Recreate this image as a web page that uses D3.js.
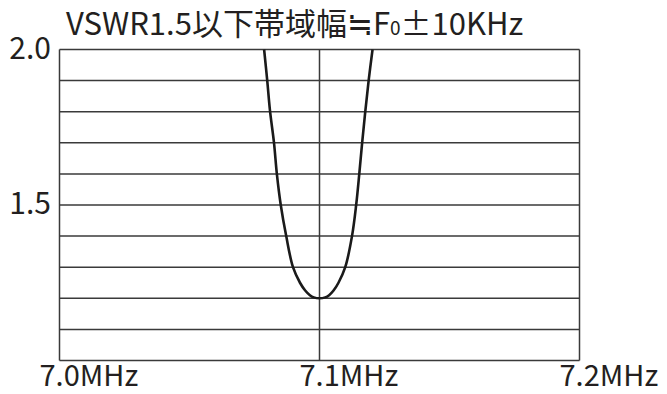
<!DOCTYPE html>
<html>
<head>
<meta charset="utf-8">
<script src="https://cdn.jsdelivr.net/npm/d3@7"></script>
<style>
  body { margin: 0; background: #fff; }
  text { font-family: "Noto Sans CJK JP", "Noto Sans", sans-serif; fill: #231f20; }
</style>
</head>
<body>
<div id="chart"></div>
<script>
// grid values (VSWR) and frequency ticks (MHz)
const gridLines = [1.0, 1.1, 1.2, 1.3, 1.4, 1.5, 1.6, 1.7, 1.8, 1.9, 2.0];
const yLabels = [1.5, 2.0];
const xTicks = [7.0, 7.1, 7.2];
const xLabels = ["7.0MHz", "7.1MHz", "7.2MHz"];

// curve
const freq = [7.0787, 7.0799, 7.0810, 7.0825, 7.0836, 7.0851, 7.0872, 7.0898, 7.0925, 7.0945, 7.0963, 7.0978, 7.1000,
              7.1022, 7.1037, 7.1054, 7.1073, 7.1099, 7.1125, 7.1141, 7.1153, 7.1164, 7.1176, 7.1189, 7.1204];
const vswr = [2.0, 1.9, 1.8, 1.7, 1.6, 1.5, 1.4, 1.3, 1.25, 1.225, 1.21, 1.203, 1.2,
              1.203, 1.21, 1.225, 1.25, 1.3, 1.4, 1.5, 1.6, 1.7, 1.8, 1.9, 2.0];

const width = 667, height = 394;
const svg = d3.select("#chart").append("svg")
    .attr("width", width)
    .attr("height", height);

const x = d3.scaleLinear().domain([7.0, 7.2]).range([59.5, 579.5]);
const y = d3.scaleLinear().domain([1.0, 2.0]).range([360.5, 49.5]);

// horizontal grid
svg.selectAll(".grid")
    .data(gridLines)
    .enter().append("line")
    .attr("x1", x(7.0)).attr("x2", x(7.2))
    .attr("y1", d => y(d)).attr("y2", d => y(d))
    .attr("stroke", "#3a3a3a")
    .attr("stroke-width", 1.5);

// vertical lines (frame + center)
svg.selectAll(".vline")
    .data(xTicks)
    .enter().append("line")
    .attr("x1", d => x(d)).attr("x2", d => x(d))
    .attr("y1", y(2.0)).attr("y2", y(1.0))
    .attr("stroke", "#3a3a3a")
    .attr("stroke-width", 1.5);

// the VSWR curve
const pts = freq.map((f, i) => [f, vswr[i]]);
const line = d3.line()
    .x(d => x(d[0]))
    .y(d => y(d[1]))
    .curve(d3.curveCatmullRom.alpha(0.5));

svg.append("path")
    .datum(pts)
    .attr("d", line)
    .attr("fill", "none")
    .attr("stroke", "#1a1a1a")
    .attr("stroke-width", 2.6);

// y labels
svg.selectAll(".ylab")
    .data(yLabels)
    .enter().append("text")
    .attr("x", 51)
    .attr("y", d => y(d) + 9)
    .attr("text-anchor", "end")
    .attr("font-size", 30)
    .text(d => d.toFixed(1));

// x labels
svg.selectAll(".xlab")
    .data(xTicks)
    .enter().append("text")
    .attr("x", d => x(d) - 20)
    .attr("y", 386)
    .attr("font-size", 29)
    .text((d, i) => xLabels[i]);

// title
const title = svg.append("text")
    .attr("x", 66)
    .attr("y", 35)
    .attr("font-size", 31);
title.append("tspan").text("VSWR1.5以下帯域幅≒F");
title.append("tspan").attr("font-size", 19).text("0");
title.append("tspan").text("±10KHz");
</script>
</body>
</html>
